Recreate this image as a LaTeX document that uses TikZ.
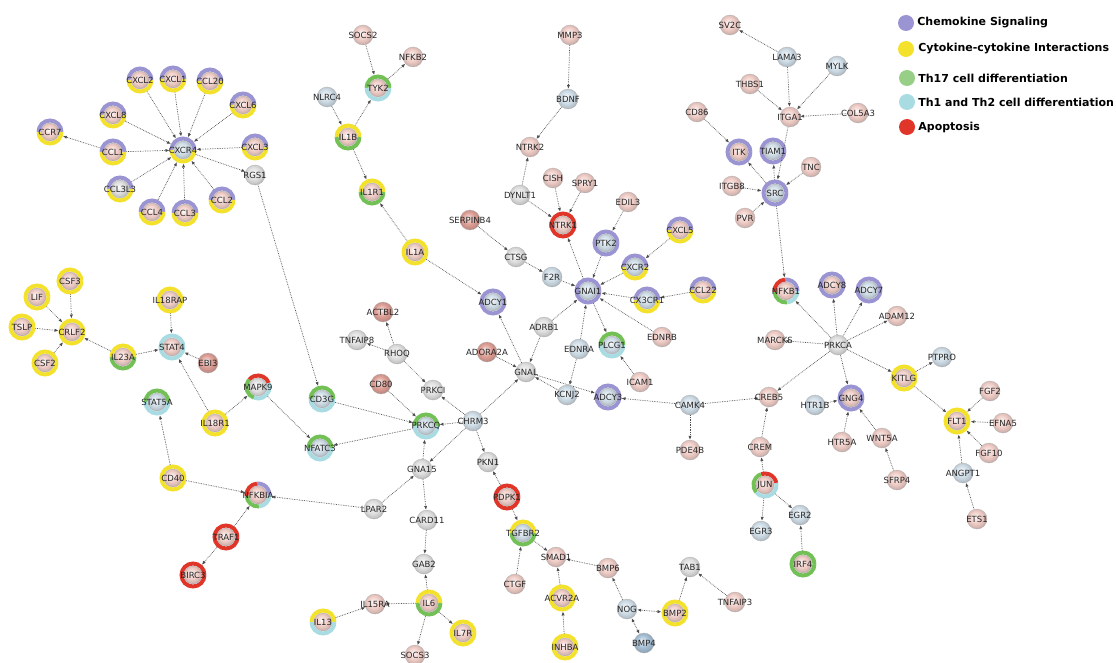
\documentclass[tikz,border=0pt]{standalone}
\usepackage{fontspec}
\setmainfont{DejaVu Sans}
\usepackage{tikz}
\usetikzlibrary{arrows.meta,positioning}
\definecolor{chemo}{HTML}{9A94D2}
\definecolor{cyto}{HTML}{F4E12C}
\definecolor{thseventeen}{HTML}{72C056}
\definecolor{legseventeen}{HTML}{98CF86}
\definecolor{thonetwo}{HTML}{A8DCE2}
\definecolor{apop}{HTML}{E0362A}
\definecolor{pinkball}{HTML}{F0CDC7}
\definecolor{blueball}{HTML}{CFDDE7}
\definecolor{grayball}{HTML}{E0E0E0}
\definecolor{redball}{HTML}{DE9F96}
\definecolor{deepball}{HTML}{A7C0D6}
\colorlet{genecol}{pinkball}
\pgfdeclareradialshading[genecol]{softball}{\pgfpoint{-5bp}{6bp}}{%
  color(0bp)=(white); color(6bp)=(genecol!55!white); color(15bp)=(genecol);
  color(24bp)=(genecol!88!black); color(31bp)=(genecol!65!black); color(50bp)=(genecol!65!black)}
\pgfdeclarelayer{bg}
\pgfsetlayers{bg,main}
\newcommand{\gname}[1]{\makebox[0pt]{#1}}
\newcommand{\ringarc}[4]{\draw[ringline, #4] ([shift={(#2:11.5pt)}]#1.center) arc[start angle=#2, end angle=#3, radius=11.5pt];}

\begin{document}
\begin{tikzpicture}[x=1pt, y=-1pt,
  gene/.style={circle, inner sep=0pt, minimum size=20pt, /utils/exec={\colorlet{genecol}{#1}}, shading=softball, draw=black!30, line width=0.3pt, font=\fontsize{8.5}{9}\selectfont, text=black!85},
  ringed/.style={minimum size=18pt, outer sep=4.5pt},
  ringline/.style={line width=4pt},
  edge/.style={densely dotted, line width=0.7pt, black!70, -{Latex[length=4pt,width=3.2pt]}},
  twoway/.style={densely dotted, line width=0.7pt, black!70, {Latex[length=4pt,width=3.2pt]}-{Latex[length=4pt,width=3.2pt]}},
  legdot/.style={circle, minimum size=16pt, inner sep=0pt},
  legtext/.style={font=\bfseries\fontsize{11}{12}\selectfont, inner sep=0pt}]
  \useasboundingbox (0,0) rectangle (1116,663);

  % chemokine cluster
  \node[gene=pinkball, ringed] (CXCL2) at (140,80) {\gname{CXCL2}};
  \node[gene=pinkball, ringed] (CXCL1) at (173,79) {\gname{CXCL1}};
  \node[gene=pinkball, ringed] (CCL20) at (210,81) {\gname{CCL20}};
  \node[gene=pinkball, ringed] (CXCL6) at (243,105) {\gname{CXCL6}};
  \node[gene=pinkball, ringed] (CXCL8) at (113,115) {\gname{CXCL8}};
  \node[gene=pinkball, ringed] (CCR7) at (50,132) {\gname{CCR7}};
  \node[gene=pinkball, ringed] (CCL1) at (113,152) {\gname{CCL1}};
  \node[gene=blueball, ringed] (CXCR4) at (183,150) {\gname{CXCR4}};
  \node[gene=pinkball, ringed] (CXCL3) at (255,147) {\gname{CXCL3}};
  \node[gene=grayball] (RGS1) at (255,175) {\gname{RGS1}};
  \node[gene=grayball, ringed] (CCL3L3) at (120,189) {\gname{CCL3L3}};
  \node[gene=pinkball, ringed] (CCL4) at (152,212) {\gname{CCL4}};
  \node[gene=pinkball, ringed] (CCL3) at (185,213) {\gname{CCL3}};
  \node[gene=pinkball, ringed] (CCL2) at (222,200) {\gname{CCL2}};

  % top middle
  \node[gene=pinkball] (SOCS2) at (363,35) {\gname{SOCS2}};
  \node[gene=pinkball] (NFKB2) at (413,57) {\gname{NFKB2}};
  \node[gene=pinkball, ringed] (TYK2) at (378,88) {\gname{TYK2}};
  \node[gene=blueball] (NLRC4) at (327,97) {\gname{NLRC4}};
  \node[gene=pinkball, ringed] (IL1B) at (348,137) {\gname{IL1B}};
  \node[gene=pinkball, ringed] (IL1R1) at (372,192) {\gname{IL1R1}};
  \node[gene=pinkball, ringed] (IL1A) at (415,252) {\gname{IL1A}};
  \node[gene=pinkball] (MMP3) at (570,35) {\gname{MMP3}};
  \node[gene=blueball] (BDNF) at (568,99) {\gname{BDNF}};
  \node[gene=pinkball] (NTRK2) at (530,147) {\gname{NTRK2}};
  \node[gene=pinkball] (CISH) at (553,178) {\gname{CISH}};
  \node[gene=pinkball] (SPRY1) at (585,183) {\gname{SPRY1}};
  \node[gene=grayball] (DYNLT1) at (520,195) {\gname{DYNLT1}};
  \node[gene=redball] (SERPINB4) at (470,220) {\gname{SERPINB4}};
  \node[gene=pinkball, ringed] (NTRK1) at (563,225) {\gname{NTRK1}};
  \node[gene=pinkball] (EDIL3) at (628,202) {\gname{EDIL3}};
  \node[gene=blueball, ringed] (PTK2) at (606,243) {\gname{PTK2}};
  \node[gene=pinkball, ringed] (CXCL5) at (680,230) {\gname{CXCL5}};
  \node[gene=blueball, ringed] (CXCR2) at (635,267) {\gname{CXCR2}};
  \node[gene=blueball, ringed] (GNAI1) at (588,291) {\gname{GNAI1}};
  \node[gene=blueball, ringed] (CX3CR1) at (647,300) {\gname{CX3CR1}};
  \node[gene=pinkball, ringed] (CCL22) at (703,290) {\gname{CCL22}};
  \node[gene=pinkball] (EDNRB) at (662,337) {\gname{EDNRB}};
  \node[gene=blueball, ringed] (PLCG1) at (612,345) {\gname{PLCG1}};
  \node[gene=blueball] (EDNRA) at (579,349) {\gname{EDNRA}};
  \node[gene=pinkball] (ICAM1) at (640,382) {\gname{ICAM1}};
  \node[gene=blueball] (KCNJ2) at (567,395) {\gname{KCNJ2}};
  \node[gene=blueball, ringed] (ADCY3) at (608,397) {\gname{ADCY3}};
  \node[gene=blueball] (CAMK4) at (690,405) {\gname{CAMK4}};
  \node[gene=pinkball] (PDE4B) at (690,450) {\gname{PDE4B}};
  \node[gene=pinkball] (CREB5) at (769,397) {\gname{CREB5}};
  \node[gene=pinkball] (CREM) at (760,447) {\gname{CREM}};

  % top right
  \node[gene=pinkball] (SV2C) at (730,25) {\gname{SV2C}};
  \node[gene=blueball] (LAMA3) at (787,57) {\gname{LAMA3}};
  \node[gene=blueball] (MYLK) at (837,66) {\gname{MYLK}};
  \node[gene=pinkball] (THBS1) at (750,84) {\gname{THBS1}};
  \node[gene=pinkball] (ITGA1) at (790,117) {\gname{ITGA1}};
  \node[gene=pinkball] (COL5A3) at (858,113) {\gname{COL5A3}};
  \node[gene=pinkball] (CD86) at (697,112) {\gname{CD86}};
  \node[gene=pinkball, ringed] (ITK) at (739,152) {\gname{ITK}};
  \node[gene=blueball, ringed] (TIAM1) at (773,151) {\gname{TIAM1}};
  \node[gene=pinkball] (TNC) at (811,167) {\gname{TNC}};
  \node[gene=pinkball] (ITGB8) at (732,186) {\gname{ITGB8}};
  \node[gene=blueball, ringed] (SRC) at (775,193) {\gname{SRC}};
  \node[gene=pinkball] (PVR) at (745,218) {\gname{PVR}};
  \node[gene=pinkball, ringed] (NFKB1) at (786,291) {\gname{NFKB1}};
  \node[gene=pinkball, ringed] (ADCY8) at (832,285) {\gname{ADCY8}};
  \node[gene=blueball, ringed] (ADCY7) at (869,290) {\gname{ADCY7}};
  \node[gene=pinkball] (ADAM12) at (897,316) {\gname{ADAM12}};
  \node[gene=pinkball] (MARCKS) at (775,340) {\gname{MARCKS}};
  \node[gene=grayball] (PRKCA) at (838,345) {\gname{PRKCA}};
  \node[gene=blueball] (HTR1B) at (815,405) {\gname{HTR1B}};
  \node[gene=pinkball, ringed] (GNG4) at (851,398) {\gname{GNG4}};
  \node[gene=pinkball] (HTR5A) at (842,442) {\gname{HTR5A}};
  \node[gene=pinkball] (WNT5A) at (882,438) {\gname{WNT5A}};
  \node[gene=pinkball] (SFRP4) at (897,480) {\gname{SFRP4}};
  \node[gene=pinkball, ringed] (KITLG) at (904,378) {\gname{KITLG}};
  \node[gene=blueball] (PTPRO) at (942,357) {\gname{PTPRO}};
  \node[gene=pinkball, ringed] (FLT1) at (957,421) {\gname{FLT1}};
  \node[gene=pinkball] (FGF2) at (990,391) {\gname{FGF2}};
  \node[gene=pinkball] (EFNA5) at (1003,423) {\gname{EFNA5}};
  \node[gene=pinkball] (FGF10) at (989,453) {\gname{FGF10}};
  \node[gene=blueball] (ANGPT1) at (963,473) {\gname{ANGPT1}};
  \node[gene=pinkball] (ETS1) at (977,519) {\gname{ETS1}};

  % left
  \node[gene=pinkball, ringed] (CSF3) at (70,281) {\gname{CSF3}};
  \node[gene=pinkball, ringed] (LIF) at (37,297) {\gname{LIF}};
  \node[gene=pinkball, ringed] (TSLP) at (22,327) {\gname{TSLP}};
  \node[gene=pinkball, ringed] (CRLF2) at (72,332) {\gname{CRLF2}};
  \node[gene=pinkball, ringed] (CSF2) at (45,363) {\gname{CSF2}};
  \node[gene=pinkball, ringed] (IL23A) at (123,357) {\gname{IL23A}};
  \node[gene=pinkball, ringed] (IL18RAP) at (170,300) {\gname{IL18RAP}};
  \node[gene=pinkball, ringed] (STAT4) at (172,347) {\gname{STAT4}};
  \node[gene=redball] (EBI3) at (208,363) {\gname{EBI3}};
  \node[gene=grayball, ringed] (MAPK9) at (258,387) {\gname{MAPK9}};
  \node[gene=blueball, ringed] (STAT5A) at (157,402) {\gname{STAT5A}};
  \node[gene=pinkball, ringed] (IL18R1) at (215,423) {\gname{IL18R1}};
  \node[gene=pinkball, ringed] (CD40) at (173,478) {\gname{CD40}};
  \node[gene=pinkball, ringed] (NFKBIA) at (258,495) {\gname{NFKBIA}};
  \node[gene=pinkball, ringed] (TRAF1) at (226,537) {\gname{TRAF1}};
  \node[gene=pinkball, ringed] (BIRC3) at (193,575) {\gname{BIRC3}};

  % centre
  \node[gene=grayball] (CTSG) at (516,257) {\gname{CTSG}};
  \node[gene=blueball] (F2R) at (552,277) {\gname{F2R}};
  \node[gene=blueball, ringed] (ADCY1) at (493,302) {\gname{ADCY1}};
  \node[gene=redball] (ACTBL2) at (383,312) {\gname{ACTBL2}};
  \node[gene=grayball] (TNFAIP8) at (357,340) {\gname{TNFAIP8}};
  \node[gene=grayball] (RHOQ) at (397,354) {\gname{RHOQ}};
  \node[gene=grayball] (ADRB1) at (544,327) {\gname{ADRB1}};
  \node[gene=redball] (ADORA2A) at (487,352) {\gname{ADORA2A}};
  \node[gene=grayball] (GNAL) at (526,372) {\gname{GNAL}};
  \node[gene=redball] (CD80) at (381,384) {\gname{CD80}};
  \node[gene=grayball] (PRKCI) at (433,390) {\gname{PRKCI}};
  \node[gene=blueball, ringed] (CD3G) at (322,399) {\gname{CD3G}};
  \node[gene=blueball, ringed] (PRKCQ) at (426,426) {\gname{PRKCQ}};
  \node[gene=blueball] (CHRM3) at (473,421) {\gname{CHRM3}};
  \node[gene=blueball, ringed] (NFATC3) at (320,448) {\gname{NFATC3}};

  % bottom
  \node[gene=grayball] (GNA15) at (422,469) {\gname{GNA15}};
  \node[gene=grayball] (PKN1) at (488,462) {\gname{PKN1}};
  \node[gene=grayball] (LPAR2) at (374,509) {\gname{LPAR2}};
  \node[gene=grayball] (CARD11) at (427,520) {\gname{CARD11}};
  \node[gene=pinkball, ringed] (PDPK1) at (507,497) {\gname{PDPK1}};
  \node[gene=blueball, ringed] (TGFBR2) at (523,533) {\gname{TGFBR2}};
  \node[gene=pinkball] (SMAD1) at (556,557) {\gname{SMAD1}};
  \node[gene=grayball] (GAB2) at (424,564) {\gname{GAB2}};
  \node[gene=pinkball] (CTGF) at (515,584) {\gname{CTGF}};
  \node[gene=pinkball, ringed] (ACVR2A) at (562,598) {\gname{ACVR2A}};
  \node[gene=pinkball] (IL15RA) at (375,604) {\gname{IL15RA}};
  \node[gene=pinkball, ringed] (IL6) at (429,603) {\gname{IL6}};
  \node[gene=pinkball, ringed] (IL13) at (323,622) {\gname{IL13}};
  \node[gene=pinkball, ringed] (IL7R) at (463,633) {\gname{IL7R}};
  \node[gene=pinkball] (SOCS3) at (415,655) {\gname{SOCS3}};
  \node[gene=pinkball, ringed] (INHBA) at (565,647) {\gname{INHBA}};
  \node[gene=pinkball, ringed] (JUN) at (765,485) {\gname{JUN}};
  \node[gene=blueball] (EGR2) at (800,515) {\gname{EGR2}};
  \node[gene=blueball] (EGR3) at (761,531) {\gname{EGR3}};
  \node[gene=pinkball, ringed] (IRF4) at (803,564) {\gname{IRF4}};
  \node[gene=pinkball] (BMP6) at (608,568) {\gname{BMP6}};
  \node[gene=grayball] (TAB1) at (690,567) {\gname{TAB1}};
  \node[gene=pinkball] (TNFAIP3) at (735,602) {\gname{TNFAIP3}};
  \node[gene=blueball] (NOG) at (627,609) {\gname{NOG}};
  \node[gene=pinkball, ringed] (BMP2) at (675,613) {\gname{BMP2}};
  \node[gene=deepball] (BMP4) at (644,643) {\gname{BMP4}};

  \begin{pgfonlayer}{bg}
    % pathway rings
    \foreach \n in {CXCL2,CXCL1,CCL20,CXCL6,CXCL8,CCR7,CCL1,CXCR4,CXCL3,CCL3L3,CCL4,CCL3,CCL2,CXCL5,CXCR2,CX3CR1,CCL22}
      {\ringarc{\n}{0}{180}{chemo}\ringarc{\n}{180}{360}{cyto}}
    \foreach \n in {PTK2,GNAI1,ADCY3,ITK,TIAM1,SRC,ADCY8,ADCY7,GNG4,ADCY1}
      {\ringarc{\n}{0}{360}{chemo}}
    \foreach \n in {IL1A,KITLG,FLT1,CSF3,LIF,TSLP,CRLF2,CSF2,IL18RAP,IL18R1,CD40,ACVR2A,IL7R,INHBA,BMP2}
      {\ringarc{\n}{0}{360}{cyto}}
    \foreach \n in {IL1B,IL1R1,IL23A,TGFBR2,IL6}
      {\ringarc{\n}{0}{180}{cyto}\ringarc{\n}{180}{360}{thseventeen}}
    \foreach \n in {TYK2,PLCG1,STAT5A,CD3G,PRKCQ,NFATC3}
      {\ringarc{\n}{0}{180}{thseventeen}\ringarc{\n}{180}{360}{thonetwo}}
    \ringarc{IL13}{0}{180}{cyto}\ringarc{IL13}{180}{360}{thonetwo}
    \ringarc{STAT4}{0}{360}{thonetwo}
    \ringarc{IRF4}{0}{360}{thseventeen}
    \foreach \n in {NTRK1,TRAF1,BIRC3,PDPK1}
      {\ringarc{\n}{0}{360}{apop}}
    \foreach \n in {NFKB1,NFKBIA}
      {\ringarc{\n}{0}{95}{chemo}\ringarc{\n}{95}{185}{apop}\ringarc{\n}{185}{275}{thseventeen}\ringarc{\n}{275}{360}{thonetwo}}
    \ringarc{MAPK9}{20}{140}{apop}\ringarc{MAPK9}{140}{250}{thseventeen}\ringarc{MAPK9}{250}{380}{thonetwo}
    \ringarc{JUN}{10}{110}{apop}\ringarc{JUN}{110}{220}{thseventeen}\ringarc{JUN}{220}{370}{thonetwo}

    % interactions
    \foreach \a/\b in {CXCL2/CXCR4,CXCL1/CXCR4,CCL20/CXCR4,CXCL6/CXCR4,CXCL8/CXCR4,CCL1/CXCR4,CXCL3/CXCR4,
        CCL3L3/CXCR4,CCL4/CXCR4,CCL3/CXCR4,CCL2/CXCR4,CCL1/CCR7,CXCR4/RGS1,RGS1/CD3G,
        SOCS2/TYK2,TYK2/NFKB2,NLRC4/IL1B,IL1B/TYK2,IL1B/IL1R1,IL1A/IL1R1,IL1A/ADCY1,
        MMP3/BDNF,BDNF/NTRK2,DYNLT1/NTRK2,DYNLT1/NTRK1,CISH/NTRK1,SPRY1/NTRK1,GNAI1/NTRK1,
        SERPINB4/CTSG,CTSG/F2R,F2R/GNAI1,EDIL3/PTK2,PTK2/GNAI1,CXCL5/CXCR2,CXCR2/GNAI1,
        CX3CR1/GNAI1,CCL22/CX3CR1,EDNRB/GNAI1,GNAI1/PLCG1,EDNRA/GNAI1,ICAM1/PLCG1,
        EDNRA/KCNJ2,ADRB1/GNAI1,ADRB1/GNAL,ADORA2A/GNAL,KCNJ2/GNAL,GNAL/ADCY1,GNAL/ADCY3,
        CAMK4/ADCY3,CAMK4/CREB5,CAMK4/PDE4B,CREM/CREB5,PRKCA/CREB5,PRKCA/MARCKS,
        PRKCA/NFKB1,PRKCA/ADCY8,PRKCA/ADCY7,PRKCA/ADAM12,PRKCA/KITLG,PRKCA/GNG4,
        HTR1B/GNG4,HTR5A/GNG4,WNT5A/GNG4,SFRP4/WNT5A,KITLG/PTPRO,KITLG/FLT1,FGF2/FLT1,
        EFNA5/FLT1,FGF10/FLT1,ANGPT1/FLT1,ETS1/ANGPT1,JUN/CREM,JUN/EGR3,JUN/EGR2,IRF4/EGR2,
        LAMA3/SV2C,LAMA3/ITGA1,MYLK/ITGA1,THBS1/ITGA1,COL5A3/ITGA1,ITGA1/SRC,CD86/ITK,
        SRC/ITK,SRC/TIAM1,TNC/SRC,ITGB8/SRC,PVR/SRC,SRC/NFKB1,
        CSF3/CRLF2,LIF/CRLF2,TSLP/CRLF2,CSF2/CRLF2,IL23A/CRLF2,IL23A/STAT4,IL18RAP/STAT4,
        EBI3/STAT4,IL18R1/STAT4,IL18R1/MAPK9,MAPK9/NFATC3,CD40/STAT5A,CD40/NFKBIA,
        LPAR2/NFKBIA,TRAF1/NFKBIA,TRAF1/BIRC3,
        RHOQ/ACTBL2,RHOQ/TNFAIP8,RHOQ/PRKCI,CD80/PRKCQ,CHRM3/PRKCI,CHRM3/PRKCQ,CD3G/PRKCQ,
        PRKCQ/NFATC3,CHRM3/GNAL,CHRM3/GNA15,CHRM3/PKN1,GNA15/PRKCQ,LPAR2/GNA15,
        GNA15/CARD11,CARD11/GAB2,IL6/GAB2,IL6/IL15RA,IL13/IL15RA,IL6/SOCS3,IL6/IL7R,
        PDPK1/PKN1,PDPK1/TGFBR2,TGFBR2/SMAD1,CTGF/TGFBR2,ACVR2A/SMAD1,INHBA/ACVR2A,
        BMP6/SMAD1,NOG/BMP6,BMP2/TAB1,TNFAIP3/TAB1}
      \draw[edge] (\a) -- (\b);
    \draw[twoway] (NOG) -- (BMP2);
    \draw[twoway] (NOG) -- (BMP4);
  \end{pgfonlayer}

  % legend
  \node[legdot, fill=chemo] (lchemo) at (906,23) {};
  \node[legdot, fill=cyto] (lcyto) at (906,49) {};
  \node[legdot, fill=legseventeen] (lseventeen) at (907,78) {};
  \node[legdot, fill=thonetwo] (lonetwo) at (907,102) {};
  \node[legdot, fill=apop] (lapop) at (907,127) {};
  \node[legtext, right=3pt of lchemo] (tchemo) {Chemokine Signaling};
  \node[legtext, right=4pt of lcyto] (tcyto) {Cytokine-cytokine Interactions};
  \node[legtext, right=3pt of lseventeen] (tseventeen) {Th17 cell differentiation};
  \node[legtext, right=3pt of lonetwo] (tonetwo) {Th1 and Th2 cell differentiation};
  \node[legtext, right=3pt of lapop] (tapop) {Apoptosis};
\end{tikzpicture}
\end{document}
